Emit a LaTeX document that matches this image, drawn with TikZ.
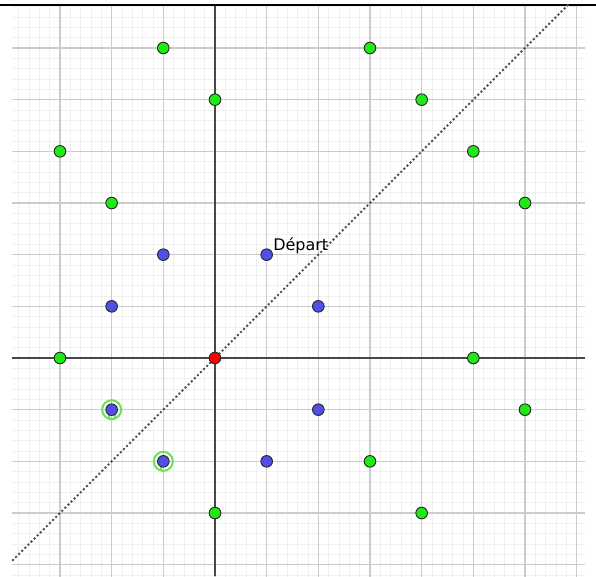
\documentclass[tikz,border=0pt]{standalone}
\usepackage{fontspec}
\setmainfont{DejaVu Sans}
\begin{document}
\begin{tikzpicture}[x=1cm,y=1cm,
  minorgrid/.style={draw=black!6,line width=0.5pt},
  majorgrid/.style={draw=black!20,line width=0.7pt},
  axisline/.style={draw=black!72,line width=1.15pt},
  bisector/.style={draw=black!68,line width=1.6pt,line cap=round,dash pattern=on 0pt off 2.4pt},
  pt/.style={circle,draw=black!85,line width=0.5pt,minimum size=0.225cm,inner sep=0pt},
  gpt/.style={pt,fill=ptgreen},
  bpt/.style={pt,fill=ptblue},
  rpt/.style={pt,fill=red},
  ring/.style={draw=ringgreen,line width=1.1pt},
  lbl/.style={font=\fontsize{8.8}{10}\selectfont,anchor=base west,inner sep=0pt}
]
\definecolor{ptgreen}{RGB}{30,235,20}
\definecolor{ptblue}{RGB}{80,80,230}
\definecolor{ringgreen}{RGB}{110,225,90}
\useasboundingbox (-4.161,-4.219) rectangle (7.374,6.929);
\fill[white] (-4.161,-4.219) rectangle (7.374,6.929);
% grid
\begin{scope}
\clip (-3.929,-4.219) rectangle (7.161,6.81);
\draw[minorgrid] (-4.2,-4.4) grid[step=0.2] (7.4,7);
\draw[majorgrid] (-4.2,-4.4) grid[step=1] (7.4,7);
\end{scope}
% top border
\draw[black,line width=1.2pt] (-4.161,6.835) -- (7.374,6.835);
% axes
\coordinate (xl) at (-3.929,0);
\coordinate (xr) at (7.161,0);
\coordinate (yb) at (0,-4.219);
\coordinate (yt) at (0,6.81);
\draw[axisline] (xl) -- (xr);
\draw[axisline] (yb) -- (yt);
% bisector y = x
\coordinate (d1) at (-3.91,-3.91);
\coordinate (d2) at (6.84,6.84);
\draw[bisector] (d1) -- (d2);
% rings
\draw[ring] (-2,-1) circle (0.184);
\draw[ring] (-2.06,-1.09) -- (-2.06,-1.17) (-1.94,-1.09) -- (-1.94,-1.17);
\draw[ring] (-1,-2) circle (0.184);
\draw[ring] (-1.05,-2.09) -- (-1.05,-2.17);
% green points
\foreach \p/\n in {{(-1,6)}/g1,{(3,6)}/g2,{(0,5)}/g3,{(4,5)}/g4,{(-3,4)}/g5,{(5,4)}/g6,{(-2,3)}/g7,{(6,3)}/g8,{(-3,0)}/g9,{(5,0)}/g10,{(6,-1)}/g11,{(3,-2)}/g12,{(0,-3)}/g13,{(4,-3)}/g14}
  \node[gpt] (\n) at \p {};
% blue points
\foreach \p/\n in {{(-1,2)}/b1,{(1,2)}/b2,{(-2,1)}/b3,{(2,1)}/b4,{(-2,-1)}/b5,{(2,-1)}/b6,{(-1,-2)}/b7,{(1,-2)}/b8}
  \node[bpt] (\n) at \p {};
% origin
\node[rpt] (o) at (0,0) {};
% label
\node[lbl] (dep) at (1.122,2.09) {Départ};
\end{tikzpicture}
\end{document}
